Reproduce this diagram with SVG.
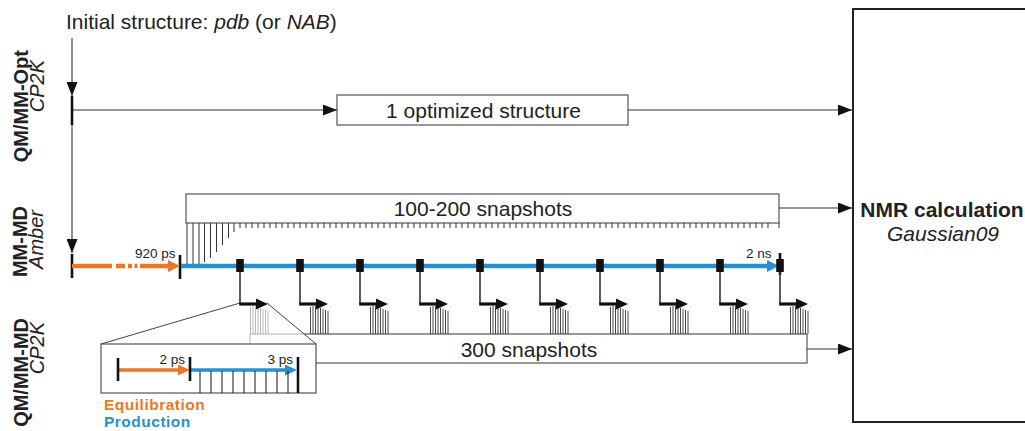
<svg xmlns="http://www.w3.org/2000/svg" width="1025" height="431" viewBox="0 0 1025 431">
<style>
text{font-family:"Liberation Sans",Arial,sans-serif;fill:#222}
.f21{font-size:21px}
.f20{font-size:20px}
.f13{font-size:13.5px}
.leg{font-size:15.5px;font-weight:bold;letter-spacing:0.5px}
.b{font-weight:bold}
.i{font-style:italic}
.mid{text-anchor:middle}
.end{text-anchor:end}
.thin{stroke:#333;stroke-width:1.1;fill:none}
.box{fill:#fff;stroke:#555;stroke-width:1.2}
.tick{stroke:#111;stroke-width:2.6;fill:none}
.orl{stroke:#E8782A;stroke-width:4.5;fill:none}
.bll{stroke:#2A8FD0;stroke-width:4.5;fill:none}
.orf{fill:#E8782A}
.blf{fill:#2A8FD0}
.comb{stroke:#333;stroke-width:1;fill:none}
</style>
<defs>
<marker id="ah" viewBox="0 0 10 10" refX="10" refY="5" markerWidth="14" markerHeight="11" markerUnits="userSpaceOnUse" orient="auto" preserveAspectRatio="none"><path d="M0 0L10 5L0 10z" fill="#111"/></marker>
<rect id="sq" x="-3.8" y="259" width="7.6" height="13" fill="#111"/>
<g id="branch">
<path d="M0 272V304" stroke="#333" stroke-width="1.6" fill="none"/>
<path d="M-0.8 304H18" stroke="#111" stroke-width="3.2" fill="none"/>
<path d="M16 298.5L28 304L16 309.5Z" fill="#111"/>
</g>
<path id="cluster" d="M10.5 307V334M13 306V334M15.5 306V334M18 306V334M20.5 308V334M23 309V334M25.5 310V334M28 311V334" stroke="#333" stroke-width="0.9" fill="none"/>
</defs>

<g id="labels">
<text class="f20 b end" transform="translate(28,50) rotate(-90)">QM/MM-Opt</text>
<text class="f20 i end" transform="translate(44,60) rotate(-90)">CP2K</text>
<text class="f20 b end" transform="translate(27,206) rotate(-90)">MM-MD</text>
<text class="f20 i end" transform="translate(43,210) rotate(-90)">Amber</text>
<text class="f20 b end" transform="translate(28,318) rotate(-90)">QM/MM-MD</text>
<text class="f20 i end" transform="translate(44,322) rotate(-90)">CP2K</text>
</g>

<g id="initial">
<text class="f21" x="66" y="29">Initial structure: <tspan class="i">pdb</tspan> (or <tspan class="i">NAB</tspan>)</text>
</g>

<g id="nmr">
<rect x="853" y="9" width="190" height="413" fill="#fff" stroke="#222" stroke-width="2"/>
<text class="f21 b mid" x="942" y="217">NMR calculation</text>
<text class="f21 i mid" x="943" y="241">Gaussian09</text>
</g>

<g id="opt">
<rect class="box" x="337" y="95" width="291" height="30"/>
<text class="f21 mid" x="483.5" y="117.5">1 optimized structure</text>
</g>

<g id="snap100">
<rect class="box" x="186" y="194" width="593" height="29"/>
<text class="f21 mid" x="483" y="216">100-200 snapshots</text>
<path class="comb" d="M187 223V264M193 223V264M199 223V264M204.5 223V262M210.5 223V258M216.5 223V252M222.5 223V245M228.5 223V238M234 223V232"/>
<path class="comb" d="M240 223v5m6-5v5m6-5v5m6-5v5m6-5v5m6-5v5m6-5v5m6-5v5m6-5v5m6-5v5m6-5v5m6-5v5m6-5v5m6-5v5m6-5v5m6-5v5m6-5v5m6-5v5m6-5v5m6-5v5m6-5v5m6-5v5m6-5v5m6-5v5m6-5v5m6-5v5m6-5v5m6-5v5m6-5v5m6-5v5m6-5v5m6-5v5m6-5v5m6-5v5m6-5v5m6-5v5m6-5v5m6-5v5m6-5v5m6-5v5m6-5v5m6-5v5m6-5v5m6-5v5m6-5v5m6-5v5m6-5v5m6-5v5m6-5v5m6-5v5m6-5v5m6-5v5m6-5v5m6-5v5m6-5v5m6-5v5m6-5v5m6-5v5m6-5v5m6-5v5m6-5v5m6-5v5m6-5v5m6-5v5m6-5v5m6-5v5m6-5v5m6-5v5m6-5v5m6-5v5m6-5v5m6-5v5m6-5v5m6-5v5m6-5v5m6-5v5m6-5v5m6-5v5m6-5v5m6-5v5m6-5v5m6-5v5m6-5v5m6-5v5m6-5v5m6-5v5m6-5v5m6-5v5m6-5v5M779 223v5"/>
</g>

<g id="snap300">
<rect class="box" x="250" y="334" width="557" height="29"/>
<text class="f21 mid" x="529" y="356.5">300 snapshots</text>
<use href="#cluster" x="240"/>
<use href="#cluster" x="300"/>
<use href="#cluster" x="360"/>
<use href="#cluster" x="420"/>
<use href="#cluster" x="480"/>
<use href="#cluster" x="540"/>
<use href="#cluster" x="600"/>
<use href="#cluster" x="660"/>
<use href="#cluster" x="720"/>
<use href="#cluster" x="780"/>
</g>

<g id="connectors">
<path class="thin" d="M72 38V96" marker-end="url(#ah)"/>
<path class="thin" d="M72 124V253" marker-end="url(#ah)"/>
<path class="thin" d="M72 110H337" marker-end="url(#ah)"/>
<path class="thin" d="M628 110H852" marker-end="url(#ah)"/>
<path class="thin" d="M779 208H852" marker-end="url(#ah)"/>
<path class="thin" d="M807 349H852" marker-end="url(#ah)"/>
<path class="tick" d="M72 96V125M72 254V278M180 255V279M780 253V275"/>
<path class="orl" d="M72 266H112M116 266H125M128 266H132M134.5 266H137.5M140 266H170"/>
<path class="orf" d="M168 260L180 266L168 272Z"/>
<path class="bll" d="M181 266H769"/>
<path class="blf" d="M767 260L779 266L767 272Z"/>
</g>

<g id="timeline">
<text class="f13" x="135" y="258">920 ps</text>
<text class="f13" x="746" y="258">2 ns</text>
<use href="#sq" x="240"/>
<use href="#sq" x="300"/>
<use href="#sq" x="360"/>
<use href="#sq" x="420"/>
<use href="#sq" x="480"/>
<use href="#sq" x="540"/>
<use href="#sq" x="600"/>
<use href="#sq" x="660"/>
<use href="#sq" x="720"/>
<use href="#sq" x="780"/>
</g>

<g id="zoom">
<polygon points="240,303 267,303 316,344 101,344" fill="#fff" fill-opacity="0.62"/>
<path d="M240 303L101 344M267 303L316 344" stroke="#444" stroke-width="1" fill="none"/>
<rect x="101" y="344" width="215" height="49" fill="#fff" stroke="#444" stroke-width="1.1"/>
<path class="orl" d="M118 370H180" style="stroke-width:3.5"/>
<path class="orf" d="M178 364.5L190 370L178 375.5Z"/>
<path class="bll" d="M190 370H287" style="stroke-width:3.5"/>
<path class="blf" d="M285 364.5L297 370L285 375.5Z"/>
<path class="comb" d="M200 371V393M211 371V393M222 371V393M233 371V393M244 371V393M255 371V393M266 371V393M277 371V393M288 371V393" style="stroke:#111"/>
<path class="tick" d="M118 358V381M190 357V381M298 357V393"/>
<text class="f13 end" x="185" y="364">2 ps</text>
<text class="f13 end" x="293" y="364">3 ps</text>
<text class="leg" x="104" y="409.5" style="fill:#E8782A">Equilibration</text>
<text class="leg" x="104" y="427" style="fill:#2A8FD0">Production</text>
</g>

<g id="branches">
<use href="#branch" x="240"/>
<use href="#branch" x="300"/>
<use href="#branch" x="360"/>
<use href="#branch" x="420"/>
<use href="#branch" x="480"/>
<use href="#branch" x="540"/>
<use href="#branch" x="600"/>
<use href="#branch" x="660"/>
<use href="#branch" x="720"/>
<use href="#branch" x="780"/>
</g>
</svg>
